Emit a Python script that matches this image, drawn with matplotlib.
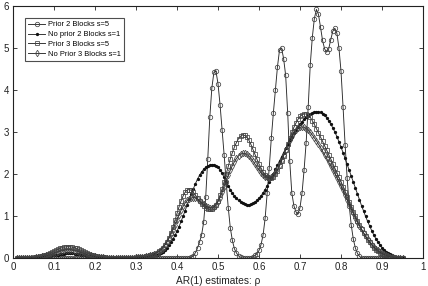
import numpy as np
import matplotlib
matplotlib.use("Agg")
import matplotlib.pyplot as plt

plt.rcParams['font.family'] = ['Liberation Sans', 'DejaVu Sans']

# evaluation grid of the AR(1) estimates (0.01 .. 0.95, step 0.005)
rho = np.round(np.arange(0.01, 0.9501, 0.005), 3)

prior2_s5 = (
    [0.0] * 84 +
    [0.00, 0.02, 0.05, 0.13, 0.24, 0.38, 0.55, 0.85, 1.45, 2.35,
     3.35, 4.05, 4.42, 4.45, 4.15, 3.65, 3.05, 2.45, 1.80, 1.20,
     0.72, 0.42, 0.22, 0.12, 0.05, 0.02, 0.00, 0.00, 0.00, 0.00,
     0.00, 0.02, 0.06, 0.10, 0.18, 0.32, 0.55, 0.95, 1.55, 2.15,
     2.85, 3.45, 4.00, 4.55, 4.95, 5.00, 4.75, 4.35, 3.45, 2.30,
     1.55, 1.25, 1.10, 1.05, 1.20, 1.55, 2.10, 2.75, 3.60, 4.60,
     5.25, 5.70, 5.92, 5.80, 5.50, 5.18, 4.98, 4.90, 4.98, 5.20,
     5.40, 5.47, 5.35, 5.00, 4.45, 3.60, 2.70, 1.90, 1.25, 0.78,
     0.45, 0.24, 0.11, 0.04, 0.00] +
    [0.0] * 20
)

noprior2_s1 = [
    0.00, 0.00, 0.00, 0.00, 0.00, 0.00, 0.00, 0.00, 0.01, 0.01,
    0.01, 0.02, 0.02, 0.03, 0.03, 0.04, 0.05, 0.06, 0.07, 0.07,
    0.08, 0.09, 0.10, 0.10, 0.11, 0.11, 0.11, 0.11, 0.10, 0.10,
    0.09, 0.08, 0.07, 0.06, 0.05, 0.04, 0.04, 0.03, 0.02, 0.02,
    0.02, 0.01, 0.01, 0.01, 0.01, 0.01, 0.01, 0.01, 0.01, 0.01,
    0.01, 0.01, 0.01, 0.01, 0.01, 0.01, 0.01, 0.01, 0.01, 0.01,
    0.01, 0.01, 0.02, 0.02, 0.03, 0.03, 0.04, 0.06, 0.07, 0.09,
    0.12, 0.15, 0.19, 0.24, 0.30, 0.37, 0.45, 0.54, 0.64, 0.75,
    0.87, 1.00, 1.13, 1.27, 1.40, 1.53, 1.65, 1.77, 1.88, 1.97,
    2.05, 2.11, 2.16, 2.19, 2.21, 2.22, 2.22, 2.20, 2.16, 2.10,
    2.02, 1.92, 1.82, 1.72, 1.63, 1.55, 1.48, 1.42, 1.37, 1.33,
    1.30, 1.28, 1.27, 1.27, 1.28, 1.30, 1.33, 1.37, 1.42, 1.48,
    1.55, 1.63, 1.72, 1.81, 1.91, 2.01, 2.11, 2.21, 2.31, 2.41,
    2.51, 2.61, 2.71, 2.80, 2.89, 2.97, 3.05, 3.12, 3.19, 3.25,
    3.30, 3.35, 3.39, 3.42, 3.45, 3.47, 3.48, 3.48, 3.47, 3.44,
    3.40, 3.34, 3.27, 3.19, 3.10, 3.00, 2.89, 2.77, 2.64, 2.51,
    2.37, 2.23, 2.09, 1.95, 1.81, 1.67, 1.53, 1.39, 1.25, 1.12,
    0.99, 0.87, 0.76, 0.65, 0.55, 0.46, 0.38, 0.31, 0.25, 0.20,
    0.15, 0.12, 0.09, 0.06, 0.04, 0.03, 0.02, 0.01, 0.00,
]

prior3_s5 = [
    0.00, 0.00, 0.00, 0.00, 0.00, 0.01, 0.01, 0.01, 0.02, 0.02,
    0.03, 0.04, 0.05, 0.07, 0.08, 0.10, 0.12, 0.14, 0.17, 0.19,
    0.21, 0.23, 0.25, 0.26, 0.27, 0.27, 0.27, 0.26, 0.25, 0.23,
    0.21, 0.19, 0.17, 0.14, 0.12, 0.10, 0.08, 0.07, 0.05, 0.04,
    0.03, 0.03, 0.02, 0.02, 0.01, 0.01, 0.01, 0.01, 0.01, 0.01,
    0.01, 0.01, 0.01, 0.01, 0.01, 0.01, 0.01, 0.01, 0.01, 0.02,
    0.02, 0.03, 0.03, 0.04, 0.05, 0.06, 0.08, 0.10, 0.13, 0.16,
    0.20, 0.25, 0.31, 0.39, 0.48, 0.60, 0.74, 0.90, 1.06, 1.22,
    1.36, 1.48, 1.57, 1.62, 1.63, 1.61, 1.56, 1.49, 1.42, 1.35,
    1.29, 1.24, 1.20, 1.17, 1.16, 1.17, 1.21, 1.27, 1.36, 1.49,
    1.64, 1.82, 2.01, 2.19, 2.36, 2.51, 2.64, 2.75, 2.84, 2.90,
    2.93, 2.92, 2.88, 2.81, 2.71, 2.59, 2.47, 2.35, 2.24, 2.14,
    2.05, 1.98, 1.93, 1.90, 1.90, 1.93, 1.99, 2.08, 2.19, 2.31,
    2.44, 2.58, 2.72, 2.86, 2.99, 3.11, 3.21, 3.30, 3.37, 3.41,
    3.43, 3.43, 3.40, 3.35, 3.27, 3.18, 3.08, 2.98, 2.88, 2.78,
    2.67, 2.57, 2.46, 2.36, 2.25, 2.14, 2.03, 1.92, 1.81, 1.70,
    1.58, 1.46, 1.34, 1.22, 1.10, 0.99, 0.88, 0.78, 0.69, 0.60,
    0.52, 0.44, 0.37, 0.31, 0.25, 0.20, 0.16, 0.13, 0.10, 0.08,
    0.06, 0.04, 0.03, 0.02, 0.01, 0.01, 0.00, 0.00, 0.00,
]

noprior3_s1 = [
    0.00, 0.00, 0.00, 0.00, 0.00, 0.00, 0.01, 0.01, 0.01, 0.02,
    0.02, 0.03, 0.04, 0.05, 0.06, 0.07, 0.09, 0.10, 0.12, 0.13,
    0.15, 0.16, 0.17, 0.18, 0.19, 0.19, 0.19, 0.18, 0.17, 0.16,
    0.15, 0.13, 0.12, 0.10, 0.09, 0.07, 0.06, 0.05, 0.04, 0.03,
    0.02, 0.02, 0.02, 0.01, 0.01, 0.01, 0.01, 0.01, 0.01, 0.01,
    0.01, 0.01, 0.01, 0.01, 0.01, 0.01, 0.01, 0.01, 0.02, 0.02,
    0.02, 0.03, 0.03, 0.04, 0.05, 0.06, 0.08, 0.10, 0.12, 0.15,
    0.19, 0.24, 0.30, 0.37, 0.46, 0.56, 0.67, 0.79, 0.91, 1.03,
    1.14, 1.23, 1.31, 1.37, 1.41, 1.43, 1.44, 1.43, 1.40, 1.36,
    1.32, 1.28, 1.24, 1.21, 1.20, 1.20, 1.22, 1.27, 1.34, 1.44,
    1.56, 1.70, 1.84, 1.97, 2.09, 2.20, 2.29, 2.37, 2.43, 2.47,
    2.49, 2.49, 2.47, 2.43, 2.38, 2.31, 2.24, 2.16, 2.09, 2.03,
    1.98, 1.94, 1.92, 1.91, 1.92, 1.96, 2.02, 2.11, 2.22, 2.34,
    2.46, 2.58, 2.70, 2.81, 2.91, 2.99, 3.05, 3.09, 3.11, 3.12,
    3.11, 3.08, 3.04, 2.99, 2.93, 2.86, 2.79, 2.71, 2.63, 2.54,
    2.46, 2.37, 2.28, 2.19, 2.10, 2.01, 1.91, 1.81, 1.71, 1.61,
    1.50, 1.39, 1.28, 1.17, 1.06, 0.96, 0.86, 0.77, 0.68, 0.60,
    0.52, 0.45, 0.38, 0.32, 0.27, 0.22, 0.18, 0.14, 0.11, 0.09,
    0.07, 0.05, 0.03, 0.02, 0.01, 0.01, 0.00, 0.00, 0.00,
]

labels = ["Prior 2 Blocks s=5", "No prior 2 Blocks s=1",
          "Prior 3 Blocks s=5", "No Prior 3 Blocks s=1"]
x_ticks = [0, 0.1, 0.2, 0.3, 0.4, 0.5, 0.6, 0.7, 0.8, 0.9, 1]
x_tick_labels = ["0", "0.1", "0.2", "0.3", "0.4", "0.5", "0.6", "0.7", "0.8", "0.9", "1"]
y_ticks = [0, 1, 2, 3, 4, 5, 6]

fig = plt.figure(figsize=(4.28, 2.86), dpi=100)
ax = fig.add_axes([13/428, 28/286, 410/428, 252/286])

lc = '#2a2a2a'
ax.plot(rho, prior2_s5, color=lc, lw=0.65, marker='o', ms=3.2, mfc='none',
        mec='#444444', mew=0.55, label=labels[0])
ax.plot(rho, noprior2_s1, color=lc, lw=0.65, marker='.', ms=2.7,
        mfc='#111111', mec='#111111', label=labels[1])
ax.plot(rho, prior3_s5, color=lc, lw=0.65, marker='s', ms=2.9, mfc='none',
        mec='#444444', mew=0.55, label=labels[2])
ax.plot(rho, noprior3_s1, color=lc, lw=0.65, marker='d', ms=3.3, mfc='none',
        mec='#444444', mew=0.55, label=labels[3])

ax.set_xlim(0, 1)
ax.set_ylim(0, 6)
ax.set_xticks(x_ticks)
ax.set_xticklabels(x_tick_labels)
ax.set_yticks(y_ticks)
ax.tick_params(direction='in', length=3, width=0.6, top=True, right=True,
               labelsize=7, pad=3, colors='#222222')
for s in ax.spines.values():
    s.set_linewidth(0.8)
    s.set_color('#222222')

ax.set_xlabel("AR(1) estimates: ρ", fontsize=7.3, labelpad=3, color='#222222')

leg = ax.legend(loc='upper left', bbox_to_anchor=(0.029, 0.952), borderaxespad=0,
                fontsize=5.4, frameon=True, fancybox=False, handlelength=2.3,
                handletextpad=0.4, labelspacing=0.35, borderpad=0.4,
                markerscale=1.0)
leg.get_frame().set_edgecolor('#222222')
leg.get_frame().set_linewidth(0.8)

fig.savefig("out.png", dpi=100)
